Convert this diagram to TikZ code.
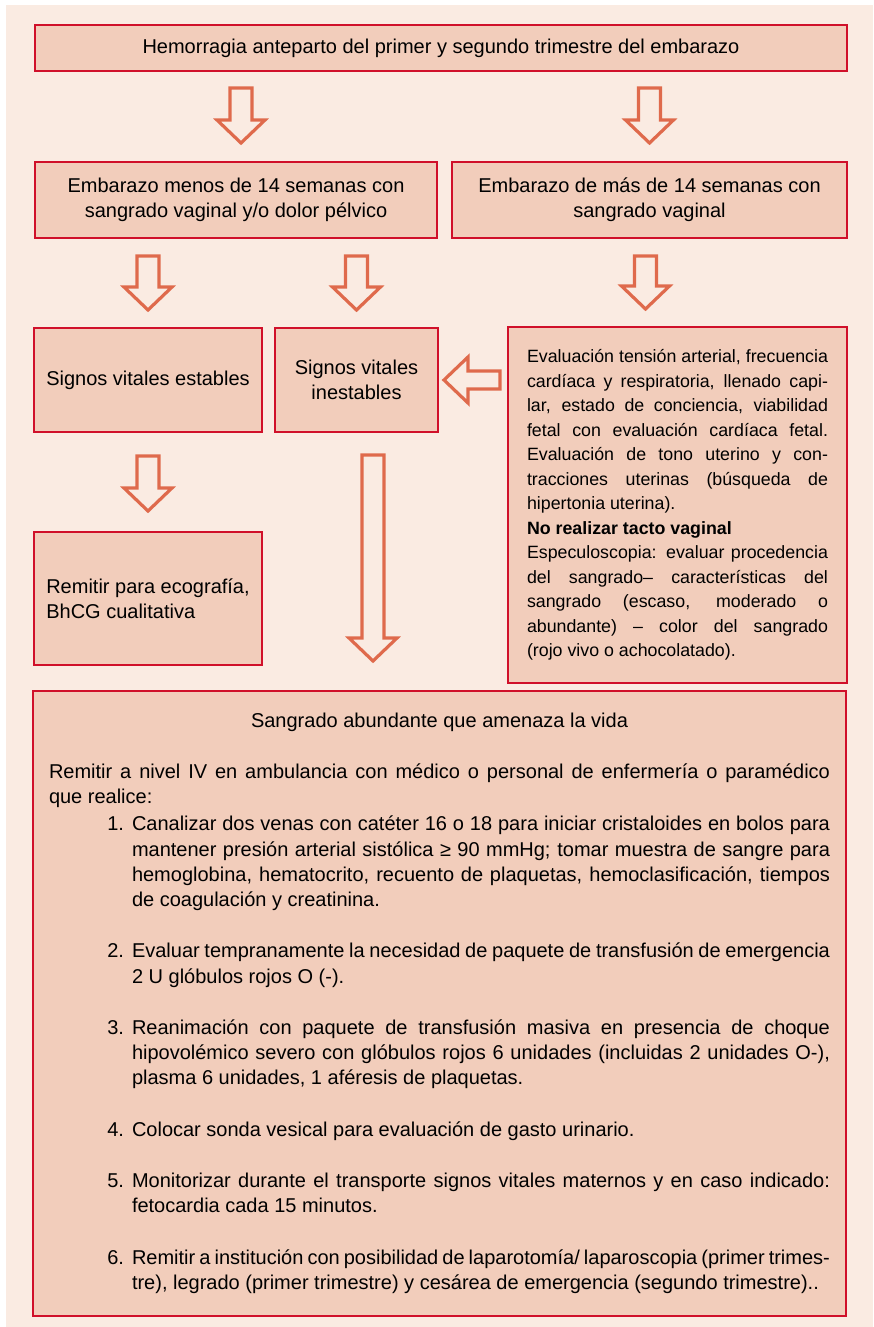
\documentclass[tikz,border=0pt]{standalone}
\usepackage{fontspec}
\setmainfont{Liberation Sans}
\usetikzlibrary{calc}
\setlength{\parindent}{0pt}

\definecolor{fondo}{RGB}{250,235,226}
\definecolor{relleno}{RGB}{242,205,187}
\definecolor{borde}{RGB}{208,16,42}
\definecolor{naranja}{RGB}{223,106,76}

\tikzset{
  caja/.style={draw=borde, fill=relleno, line width=1pt, inner sep=0pt,
    font=\fontsize{10}{12.4}\selectfont},
  flecha/.style={draw=naranja, fill=fondo, line width=1.6pt, line join=miter},
}

% flecha hueca hacia abajo: de #1 (cola) a #2 (punta)
\newcommand{\flechaabajo}[2]{%
  \draw[flecha] let \p1=#1, \p2=#2 in
    (\x1-5.5pt,\y1) -- (\x1+5.5pt,\y1) -- (\x1+5.5pt,\y2+11.5pt) -- (\x1+12pt,\y2+11.5pt)
    -- (\x1,\y2) -- (\x1-12pt,\y2+11.5pt) -- (\x1-5.5pt,\y2+11.5pt) -- cycle;}
% flecha hueca hacia la izquierda
\newcommand{\flechaizq}[2]{%
  \draw[flecha] let \p1=#1, \p2=#2 in
    (\x1,\y1+4.5pt) -- (\x1,\y1-4.5pt) -- (\x2+12pt,\y1-4.5pt) -- (\x2+12pt,\y1-11.5pt)
    -- (\x2,\y1) -- (\x2+12pt,\y1+11.5pt) -- (\x2+12pt,\y1+4.5pt) -- cycle;}

\begin{document}
\begin{tikzpicture}[x=0.5pt, y=-0.5pt]
  \useasboundingbox (0,0) rectangle (873,1327);
  \fill[white] (0,0) rectangle (873,1327);
  \fill[fondo] (6,5) rectangle (873,1327);

  \node[caja, minimum width=406pt, minimum height=23pt] (hemorragia) at (441,48)
    {Hemorragia anteparto del primer y segundo trimestre del embarazo};
  \node[caja, align=center, minimum width=201pt, minimum height=38pt] (menos14) at (236,200)
    {Embarazo menos de 14 semanas con\\ sangrado vaginal y/o dolor pélvico};
  \node[caja, align=center, minimum width=197.5pt, minimum height=38pt] (mas14) at (649.5,200)
    {Embarazo de más de 14 semanas con\\ sangrado vaginal};
  \node[caja, minimum width=114pt, minimum height=52pt] (estables) at (148,380)
    {Signos vitales estables};
  \node[caja, align=center, minimum width=81.5pt, minimum height=52pt] (inestables) at (356.5,380)
    {Signos vitales\\ inestables};
  \node[caja, text width=150.5pt, align=justify, minimum width=169.5pt, minimum height=178pt,
    font=\fontsize{8.9}{12.25}\selectfont] (evaluacion) at (677.5,505)
    {Evaluación tensión arterial, frecuencia\linebreak
     cardíaca y respiratoria, llenado capi-\linebreak
     lar, estado de conciencia, viabilidad\linebreak
     fetal con evaluación cardíaca fetal.\linebreak
     Evaluación de tono uterino y con-\linebreak
     tracciones uterinas (búsqueda de\linebreak
     hipertonia uterina).\par
     \textbf{No realizar tacto vaginal}\par
     Especuloscopia: evaluar procedencia\linebreak
     del sangrado– características del\linebreak
     sangrado (escaso, moderado o\linebreak
     abundante) – color del sangrado\linebreak
     (rojo vivo o achocolatado).};
  \node[caja, align=left, minimum width=114pt, minimum height=66.5pt] (ecografia) at (148,598.5)
    {Remitir para ecografía,\\ BhCG cualitativa};
  \node[caja, text width=390.5pt, align=justify, minimum width=406.5pt, minimum height=312.5pt,
    font=\fontsize{10}{12.6}\selectfont] (grave) at (439.5,1003.5)
    {{\centering Sangrado abundante que amenaza la vida\par}
     \vspace{12.9pt}
     Remitir a nivel IV en ambulancia con médico o personal de enfermería o paramédico\linebreak
     que realice:\par
     \begin{list}{\arabic{enumi}.}{\usecounter{enumi}\setlength{\leftmargin}{41.5pt}%
       \setlength{\labelwidth}{13pt}\setlength{\labelsep}{4pt}\setlength{\itemsep}{13.1pt}%
       \setlength{\parsep}{0pt}\setlength{\topsep}{0.9pt}\setlength{\partopsep}{0pt}}
     \item Canalizar dos venas con catéter 16 o 18 para iniciar cristaloides en bolos para\linebreak
       mantener presión arterial sistólica ≥ 90 mmHg; tomar muestra de sangre para\linebreak
       hemoglobina, hematocrito, recuento de plaquetas, hemoclasificación, tiempos\linebreak
       de coagulación y creatinina.
     \item Evaluar tempranamente la necesidad de paquete de transfusión de emergencia\linebreak
       2 U glóbulos rojos O (-).
     \item Reanimación con paquete de transfusión masiva en presencia de choque\linebreak
       hipovolémico severo con glóbulos rojos 6 unidades (incluidas 2 unidades O-),\linebreak
       plasma 6 unidades, 1 aféresis de plaquetas.
     \item Colocar sonda vesical para evaluación de gasto urinario.
     \item Monitorizar durante el transporte signos vitales maternos y en caso indicado:\linebreak
       fetocardia cada 15 minutos.
     \item Remitir a institución con posibilidad de laparotomía/ laparoscopia (primer trimes-\linebreak
       tre), legrado (primer trimestre) y cesárea de emergencia (segundo trimestre)..
     \end{list}};

  % flechas
  \flechaabajo{($(hemorragia.south -| menos14.north)+(5,16)$)}{($(menos14.north)+(5,-18)$)}
  \flechaabajo{($(hemorragia.south -| mas14.north)+(0,16)$)}{($(mas14.north)+(0,-18)$)}
  \flechaabajo{($(menos14.south -| estables.north)+(0,17)$)}{($(estables.north)+(0,-17)$)}
  \flechaabajo{($(menos14.south -| inestables.north)+(0,17)$)}{($(inestables.north)+(0,-17)$)}
  \flechaabajo{($(mas14.south)+(-4,17)$)}{($(evaluacion.north)+(0,-17)$)}
  \flechaabajo{($(estables.south)+(0,23)$)}{($(ecografia.north)+(0,-20)$)}
  \flechaabajo{($(inestables.south)+(16.5,22)$)}{($(grave.north)+(0,-29)$)}
  \flechaizq{($(evaluacion.west |- inestables.east)+(-7,0)$)}{($(inestables.east)+(5,0)$)}
\end{tikzpicture}
\end{document}
